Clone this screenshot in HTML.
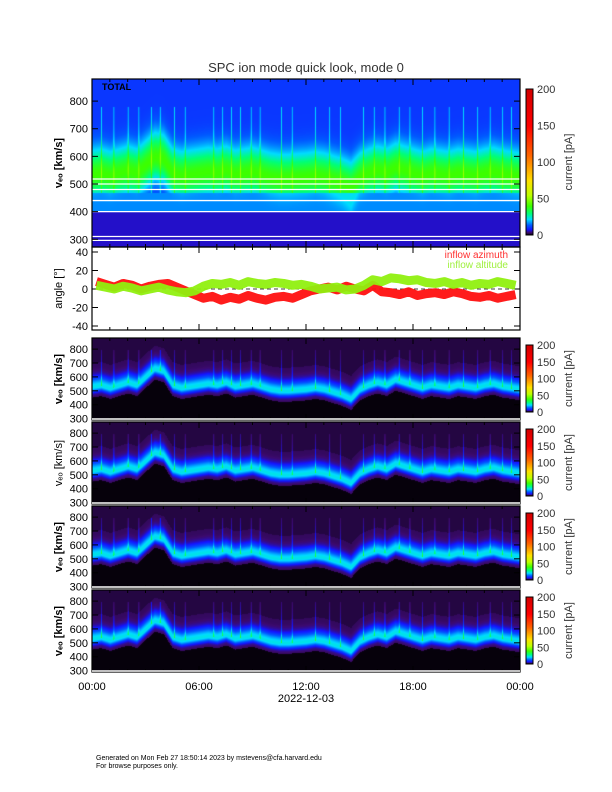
<!DOCTYPE html>
<html><head><meta charset="utf-8">
<style>
body{margin:0;background:#fff;}
#wrap{position:relative;width:612px;height:792px;overflow:hidden;background:#fff;font-family:"Liberation Sans",sans-serif;}
canvas{position:absolute;}
svg{position:absolute;left:0;top:0;}
</style></head>
<body>
<div id="wrap">
<canvas id="c0" style="left:92px;top:79px" width="428" height="168"></canvas>
<canvas id="c1" style="left:92px;top:338px" width="428" height="82"></canvas>
<canvas id="c2" style="left:92px;top:422px" width="428" height="82"></canvas>
<canvas id="c3" style="left:92px;top:506px" width="428" height="82"></canvas>
<canvas id="c4" style="left:92px;top:590px" width="428" height="82"></canvas>
<svg id="ov" width="612" height="792"></svg>
</div>
<script>
// ---- data ----
const hours = [];
for (let i = 0; i < 48; i++) hours.push(i * 0.5);
const bulkSpeed = [530,540,520,540,560,540,600,660,640,540,520,530,540,550,540,560,530,540,550,530,510,500,500,505,510,520,510,490,470,440,510,540,560,540,580,560,540,520,540,530,520,540,530,520,540,550,530,520];
const spikeTimes = [0.5,1.2,2.0,2.6,3.3,3.8,4.6,5.2,6.8,7.3,7.8,8.3,8.9,9.4,10.6,11.2,12.5,13.3,13.9,15.2,15.8,16.4,17.2,17.8,18.5,19.2,20.0,20.8,21.6,22.3,23.0,23.5];
const azimuth = [8,5,2,6,4,0,3,5,6,2,-2,-6,-10,-8,-12,-9,-11,-7,-10,-12,-9,-8,-10,-6,-2,0,2,-1,3,0,-2,4,-3,-4,-6,-3,-7,-5,-4,-6,-3,-5,-8,-9,-7,-10,-8,-6];
const altitude = [4,2,0,3,1,-2,0,2,-1,-3,-4,-2,3,6,5,7,4,8,6,5,7,6,4,5,3,0,1,2,-1,0,4,10,8,12,11,9,10,7,6,8,5,7,4,6,5,8,6,4];
const yTicksV = [300,400,500,600,700,800];
const angleTicks = [-40,-20,0,20,40];
const xTickLabels = ["00:00","06:00","12:00","18:00","00:00"];
const xTickHours = [0,6,12,18,24];
const cbTicks = [0,50,100,150,200];

// ---- scales ----
const X0 = 92, X1 = 520;
const xs = h => X0 + (h / 24) * (X1 - X0);
function speedAt(h){
  let i = Math.min(46, Math.floor(h / 0.5)), f = (h - hours[i]) / 0.5;
  return bulkSpeed[i] * (1 - f) + bulkSpeed[i + 1] * f;
}
function spikeAt(h){
  let s = 0;
  spikeTimes.forEach(t => { const d = Math.abs(h - t); if (d < 0.05) s = Math.max(s, 1 - d / 0.05); });
  return s;
}
const stops = [[0,[0,0,0]],[4,[60,10,110]],[8,[20,20,255]],[14,[0,90,255]],[22,[0,220,255]],[30,[0,255,120]],[40,[60,255,0]],[55,[190,255,0]],[75,[255,224,0]],[110,[255,100,0]],[150,[255,0,0]],[200,[210,0,0]]];
function cmap(v){
  if (v <= 0) return stops[0][1];
  for (let i = 1; i < stops.length; i++) {
    if (v <= stops[i][0]) {
      const a = stops[i-1], b = stops[i], f = (v - a[0]) / (b[0] - a[0]);
      return a[1].map((c, k) => c + (b[1][k] - c) * f);
    }
  }
  return stops[stops.length-1][1];
}
function render(id, vmin, vmax, fn){
  const cv = document.getElementById(id), ctx = cv.getContext('2d');
  const W = cv.width, H = cv.height, img = ctx.createImageData(W, H);
  for (let x = 0; x < W; x++) {
    const h = x / W * 24, vc = speedAt(h), sp = spikeAt(h);
    for (let y = 0; y < H; y++) {
      const v = vmax - (y / H) * (vmax - vmin);
      const c = cmap(fn(v, vc, sp, x, y));
      const o = (y * W + x) * 4;
      img.data[o] = c[0]; img.data[o+1] = c[1]; img.data[o+2] = c[2]; img.data[o+3] = 255;
    }
  }
  ctx.putImageData(img, 0, 0);
}
render('c0', 272, 880, (v, vc, sp) => {
  if (v < 400) return 6.5;
  if (v < 470) return 17 + 6 * Math.exp(-Math.pow((v - vc) / 50, 2));
  const c = (vc + 540) / 2;
  const w = v > c ? 90 : 80;
  const b = 29 * Math.exp(-Math.pow((v - c) / w, 2));
  const s = (v < 780) ? sp * 12 : 0;
  return 11 + b + s;
});
const lowFn = (v, vc, sp) => {
  const w = v > vc ? 65 : 35;
  const b = 20 * Math.exp(-Math.pow((v - vc) / w, 2));
  let bg = v < vc - 75 ? 0.4 : (v < vc + 170 ? 3.4 : 2.4);
  const s = (v > vc && v < 800) ? sp * 14 * Math.exp(-(v - vc) / 150) : 0;
  return bg + b + s;
};
['c1','c2','c3','c4'].forEach(id => render(id, 290, 880, lowFn));

// ---- overlay ----
const svg = document.getElementById('ov');
const NS = 'http://www.w3.org/2000/svg';
function el(tag, attrs, parent){
  const e = document.createElementNS(NS, tag);
  for (const k in attrs) e.setAttribute(k, attrs[k]);
  (parent || svg).appendChild(e);
  return e;
}
function txt(x, y, s, size, anchor, extra){
  const t = el('text', Object.assign({x:x, y:y, 'font-size':size, 'text-anchor':anchor || 'start', fill:'#000', 'font-family':'Liberation Sans, sans-serif'}, extra || {}));
  t.textContent = s;
  return t;
}
const title = txt(306, 72, 'SPC ion mode quick look, mode 0', 13, 'middle', {fill:'#333'});



const vy0 = v => 79 + (880 - v) / (880 - 272) * 168;
[518,500,480,440,400,310,296].forEach(v => {
  const l = el('line', {x1:X0, x2:X1, y1:vy0(v), y2:vy0(v), stroke:'#fff', 'stroke-width':1.3});
  
  
});
txt(102, 90, 'TOTAL', 9, 'start', {'font-weight':'bold'});

function panelAxes(top, bot, vmapper, ticks, name, label, labelBold){
  const g = el('g', {});
  
  
  el('rect', {x:X0, y:top, width:X1 - X0, height:bot - top, fill:'none', stroke:'#000', 'stroke-width':1.2}, g);
  ticks.forEach(v => {
    const y = vmapper(v);
    el('line', {x1:X0, x2:X0 + 6, y1:y, y2:y, stroke:'#000'}, g);
    el('line', {x1:X1, x2:X1 - 6, y1:y, y2:y, stroke:'#000'}, g);
    txt(X0 - 4, y + 4, String(v), 11, 'end', {});
  });
  for (let h = 0; h <= 24; h += 1) {
    const x = xs(h), len = h % 6 === 0 ? 6 : 3;
    el('line', {x1:x, x2:x, y1:bot, y2:bot - len, stroke:'#000'}, g);
    el('line', {x1:x, x2:x, y1:top, y2:top + len, stroke:'#000'}, g);
  }
  const cy = (top + bot) / 2;
  const lab = txt(62, cy, label, 11, 'middle', {transform:'rotate(-90 62 ' + cy + ')', 'font-weight': labelBold ? 'bold' : 'normal'});
  
}
panelAxes(79, 247, vy0, yTicksV, 'total-axes', 'v\u2091\u2092  [km/s]', true);
const ay = a => 289 - a * 0.925;
panelAxes(247, 330, ay, angleTicks, 'angle-axes', 'angle [°]', false);
el('line', {x1:X0, x2:X1, y1:ay(0), y2:ay(0), stroke:'#000', 'stroke-dasharray':'4 3', 'stroke-width':0.8});
function series(arr, color, name, w){
  let pts = arr.map((a, i) => xs(hours[i] + 0.25) + ',' + ay(a)).join(' ');
  const p = el('polyline', {points:pts, fill:'none', stroke:color, 'stroke-width':w, 'stroke-linejoin':'round', opacity:0.95});
  
  
}
series(azimuth, '#ff1010', 'inflow-azimuth-line', 9);
series(altitude, '#90f010', 'inflow-altitude-line', 9);
txt(508, 258, 'inflow azimuth', 10, 'end', {fill:'#ff3030'});
txt(508, 268, 'inflow altitude', 10, 'end', {fill:'#a0f040'});

[338, 422, 506, 590].forEach((top, i) => {
  const bot = top + 82;
  const vm = v => top + (880 - v) / (880 - 290) * 82;
  panelAxes(top, bot, vm, yTicksV, 'sensor-axes-' + i, 'v\u2091\u2092 [km/s]', i !== 1);
  el('line', {x1:X0, x2:X1, y1:bot - 1, y2:bot - 1, stroke:'#fff', 'stroke-width':1.5});
  cbar(top + 7, top + 74, 'colorbar-' + i);
});
function cbar(t, b, name){
  const g = el('g', {});
  
  
  for (let y = t; y < b; y += 1) {
    const v = (b - y) / (b - t) * 200, c = cmap(v);
    el('rect', {x:526, y:y, width:7, height:1.2, fill:'rgb(' + c.map(Math.round).join(',') + ')'}, g);
  }
  el('rect', {x:526, y:t, width:7, height:b - t, fill:'none', stroke:'#000', 'stroke-width':1}, g);
  cbTicks.forEach(v => {
    const y = b - v / 200 * (b - t);
    txt(537, y + 4, String(v), 11, 'start', {fill:'#333'});
  });
  const cy = (t + b) / 2;
  txt(572, cy, 'current [pA]', 11, 'middle', {transform:'rotate(-90 572 ' + cy + ')', fill:'#333'});
}
cbar(89, 235, 'colorbar-total');

xTickLabels.forEach((s, i) => {
  const t = txt(xs(xTickHours[i]), 690, s, 11, 'middle');
  
});
txt(306, 702, '2022-12-03', 11, 'middle');
txt(96, 760, 'Generated on Mon Feb 27 18:50:14 2023 by mstevens@cfa.harvard.edu', 7, 'start');
txt(96, 768, 'For browse purposes only.', 7, 'start');
</script>
</body></html>
